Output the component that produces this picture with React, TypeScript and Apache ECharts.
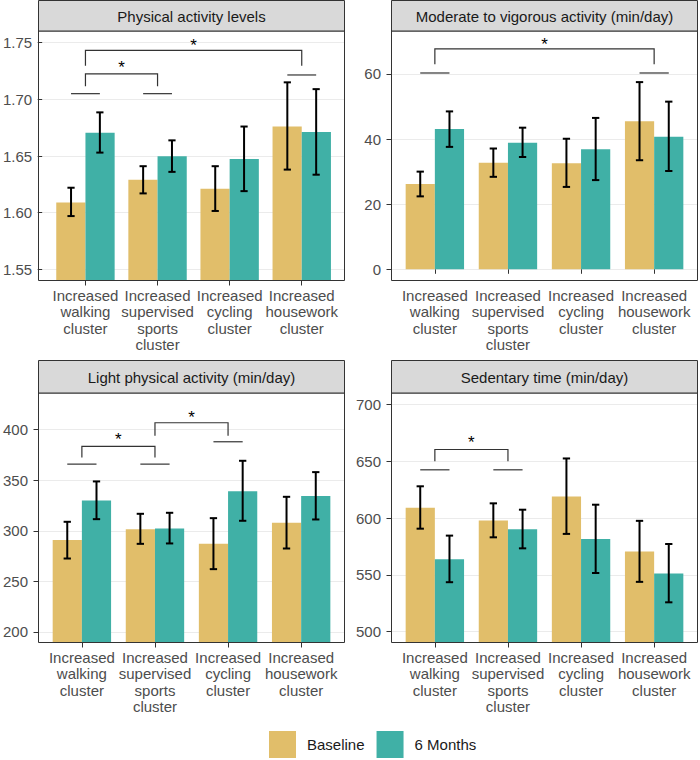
import React, { useEffect, useRef } from 'react';
import * as echarts from 'echarts';

// ---------- data ----------
const categories = [
  'Increased\nwalking\ncluster',
  'Increased\nsupervised\nsports\ncluster',
  'Increased\ncycling\ncluster',
  'Increased\nhousework\ncluster',
];
const categoryPositions = [1, 2, 3, 4];
const groupNames = ['Baseline', '6 Months'];
const groupColors = ['#E1BE6A', '#40B0A6'];

const panelTitles = [
  'Physical activity levels',
  'Moderate to vigorous activity (min/day)',
  'Light physical activity (min/day)',
  'Sedentary time (min/day)',
];

// Physical activity levels
const paBaseline = [1.609, 1.629, 1.621, 1.676];
const paBaselineLow = [1.597, 1.617, 1.6015, 1.638];
const paBaselineHigh = [1.622, 1.641, 1.641, 1.715];
const pa6m = [1.6706, 1.6497, 1.6474, 1.6712];
const pa6mLow = [1.653, 1.636, 1.619, 1.6335];
const pa6mHigh = [1.6885, 1.6638, 1.676, 1.709];
const paTicks = [1.55, 1.6, 1.65, 1.7, 1.75];
const paRange = [1.5397, 1.7603];
const paDashes = [[1, 1.705], [2, 1.705], [4, 1.7215]];
const paBrackets = [[1, 2, 1.7224, 1.7115], [1, 4, 1.7432, 1.7297]];
const paStars = [[1.5, 1.7314], [2.5, 1.7514]];

// Moderate to vigorous activity
const mvBaseline = [26.2, 32.7, 32.6, 45.5];
const mvBaselineLow = [22.4, 28.4, 25.3, 33.5];
const mvBaselineHigh = [30.0, 37.1, 40.1, 57.5];
const mv6m = [43.1, 38.9, 36.9, 40.7];
const mv6mLow = [37.6, 34.5, 27.4, 30.2];
const mv6mHigh = [48.5, 43.5, 46.5, 51.5];
const mvTicks = [0, 20, 40, 60];
const mvRange = [-3.6, 73.2];
const mvDashes = [[1, 60.3], [4, 60.3]];
const mvBrackets = [[1, 4, 67.7, 63.0]];
const mvStars = [[2.5, 70.2]];

// Light physical activity
const lpBaseline = [290.8, 301.6, 287.1, 307.9];
const lpBaselineLow = [272.6, 287.1, 262.1, 282.5];
const lpBaselineHigh = [308.9, 316.8, 312.5, 333.6];
const lp6m = [330.0, 302.3, 339.2, 334.3];
const lp6mLow = [311.5, 287.5, 309.9, 311.2];
const lp6mHigh = [348.8, 317.8, 369.2, 358.0];
const lpTicks = [200, 250, 300, 350, 400];
const lpRange = [189.1, 436.2];
const lpDashes = [[1, 365.9], [2, 365.9], [3, 388]];
const lpBrackets = [[1, 2, 383.5, 372.5], [2, 3, 406.8, 394]];
const lpStars = [[1.5, 394.6], [2.5, 415.8]];

// Sedentary time
const sdBaseline = [609.1, 597.7, 619.0, 570.5];
const sdBaselineLow = [590.6, 583.0, 586.0, 543.8];
const sdBaselineHigh = [627.9, 612.9, 652.4, 597.5];
const sd6m = [563.8, 590.0, 581.5, 551.2];
const sd6mLow = [543.5, 573.3, 551.6, 525.8];
const sd6mHigh = [584.5, 607.3, 611.7, 577.1];
const sdTicks = [500, 550, 600, 650, 700];
const sdRange = [490, 710];
const sdDashes = [[1, 642.4], [2, 642.4]];
const sdBrackets = [[1, 2, 660.3, 650]];
const sdStars = [[1.5, 669.7]];

// ---------- layout / style ----------
const FONT = '"Liberation Sans", Arial, Helvetica, sans-serif';
const PANEL_W = 307;
const PANEL_H = 250;
const panelBoxes = [
  { left: 38, top: 31, stripTop: 0, stripH: 31 },
  { left: 391, top: 31, stripTop: 0, stripH: 31 },
  { left: 38, top: 393, stripTop: 360, stripH: 33 },
  { left: 391, top: 393, stripTop: 360, stripH: 33 },
];

const panels = [
  { base: [paBaseline, paBaselineLow, paBaselineHigh], six: [pa6m, pa6mLow, pa6mHigh], ticks: paTicks, range: paRange, dec: 2, dashes: paDashes, brackets: paBrackets, stars: paStars },
  { base: [mvBaseline, mvBaselineLow, mvBaselineHigh], six: [mv6m, mv6mLow, mv6mHigh], ticks: mvTicks, range: mvRange, dec: 0, dashes: mvDashes, brackets: mvBrackets, stars: mvStars },
  { base: [lpBaseline, lpBaselineLow, lpBaselineHigh], six: [lp6m, lp6mLow, lp6mHigh], ticks: lpTicks, range: lpRange, dec: 0, dashes: lpDashes, brackets: lpBrackets, stars: lpStars },
  { base: [sdBaseline, sdBaselineLow, sdBaselineHigh], six: [sd6m, sd6mLow, sd6mHigh], ticks: sdTicks, range: sdRange, dec: 0, dashes: sdDashes, brackets: sdBrackets, stars: sdStars },
];

const DODGE = 0.2;
const CAP = 0.05;

function errorRender(off: number) {
  return (params: any, api: any) => {
    const x = api.value(0) + off;
    const lo = api.coord([x, api.value(1)]);
    const hi = api.coord([x, api.value(2)]);
    const l = api.coord([x - CAP, api.value(1)])[0];
    const r = api.coord([x + CAP, api.value(1)])[0];
    const st = { stroke: '#000', lineWidth: 2 };
    return {
      type: 'group',
      children: [
        { type: 'line', shape: { x1: lo[0], y1: lo[1], x2: hi[0], y2: hi[1] }, style: st },
        { type: 'line', shape: { x1: l, y1: hi[1], x2: r, y2: hi[1] }, style: st },
        { type: 'line', shape: { x1: l, y1: lo[1], x2: r, y2: lo[1] }, style: st },
      ],
    };
  };
}

function dashRender(params: any, api: any) {
  const x = api.value(0);
  const y = api.value(1);
  const a = api.coord([x - DODGE, y]);
  const b = api.coord([x + DODGE, y]);
  return { type: 'line', shape: { x1: a[0], y1: a[1], x2: b[0], y2: b[1] }, style: { stroke: '#333', lineWidth: 1.2 } };
}

function bracketRender(params: any, api: any) {
  const x1 = api.value(0);
  const x2 = api.value(1);
  const yt = api.value(2);
  const yl = api.value(3);
  const pts = [api.coord([x1, yl]), api.coord([x1, yt]), api.coord([x2, yt]), api.coord([x2, yl])];
  return { type: 'polyline', shape: { points: pts }, style: { stroke: '#333', lineWidth: 1.2, fill: null } };
}

function starRender(params: any, api: any) {
  const p = api.coord([api.value(0), api.value(1)]);
  return {
    type: 'text',
    x: p[0],
    y: p[1] + 4,
    style: { text: '*', fontSize: 17, fontFamily: FONT, fill: '#000', align: 'center', verticalAlign: 'middle' },
  };
}

function buildOption() {
  const grid: any[] = [];
  const xAxis: any[] = [];
  const yAxis: any[] = [];
  const series: any[] = [];
  const graphic: any[] = [];

  panels.forEach((p, i) => {
    const box = panelBoxes[i];
    grid.push({ left: box.left, top: box.top, width: PANEL_W, height: PANEL_H, containLabel: false });
    xAxis.push({
      type: 'value',
      gridIndex: i,
      min: 0.4,
      max: 4.6,
      axisLine: { show: false },
      splitLine: { show: false },
      axisTick: { show: true, customValues: categoryPositions, length: 4.5, lineStyle: { color: '#333', width: 1 } },
      axisLabel: {
        show: true,
        customValues: categoryPositions,
        formatter: (v: number) => categories[Math.round(v) - 1] ?? '',
        fontFamily: FONT,
        fontSize: 15,
        lineHeight: 16.5,
        color: '#4D4D4D',
        margin: 6,
      },
    });
    yAxis.push({
      type: 'value',
      gridIndex: i,
      min: p.range[0],
      max: p.range[1],
      axisLine: { show: false },
      splitLine: { show: true, lineStyle: { color: '#EBEBEB', width: 1 } },
      axisTick: { show: true, customValues: p.ticks, length: 4.5, lineStyle: { color: '#333', width: 1 } },
      axisLabel: {
        show: true,
        customValues: p.ticks,
        formatter: (v: number) => v.toFixed(p.dec),
        fontFamily: FONT,
        fontSize: 15,
        color: '#4D4D4D',
        margin: 10,
      },
    });

    const groups = [p.base, p.six];
    groups.forEach((g, gi) => {
      series.push({
        type: 'bar',
        name: groupNames[gi],
        xAxisIndex: i,
        yAxisIndex: i,
        barWidth: 29.2,
        barGap: '0%',
        itemStyle: { color: groupColors[gi] },
        data: categoryPositions.map((x, k) => [x, g[0][k]]),
        clip: true,
        z: 2,
      });
    });
    groups.forEach((g, gi) => {
      series.push({
        type: 'custom',
        name: 'err' + i + gi,
        xAxisIndex: i,
        yAxisIndex: i,
        renderItem: errorRender(gi === 0 ? -DODGE : DODGE),
        encode: { x: 0, y: [1, 2] },
        data: categoryPositions.map((x, k) => [x, g[1][k], g[2][k]]),
        z: 5,
      });
    });
    series.push({
      type: 'custom', name: 'dash' + i, xAxisIndex: i, yAxisIndex: i,
      renderItem: dashRender, encode: { x: 0, y: 1 }, data: p.dashes, z: 5,
    });
    series.push({
      type: 'custom', name: 'bracket' + i, xAxisIndex: i, yAxisIndex: i,
      renderItem: bracketRender, encode: { x: [0, 1], y: [2, 3] }, data: p.brackets, z: 5,
    });
    series.push({
      type: 'custom', name: 'star' + i, xAxisIndex: i, yAxisIndex: i,
      renderItem: starRender, encode: { x: 0, y: 1 }, data: p.stars, z: 5,
    });

    // panel border on top
    graphic.push({
      type: 'rect',
      shape: { x: box.left + 0.5, y: box.top, width: PANEL_W - 1, height: PANEL_H - 0.5 },
      style: { fill: 'none', stroke: '#333333', lineWidth: 1 },
      z: 100,
      silent: true,
    });
    // strip
    graphic.push({
      type: 'rect',
      shape: { x: box.left + 0.5, y: box.stripTop + 0.5, width: PANEL_W - 1, height: box.stripH - 0.5 },
      style: { fill: '#D9D9D9', stroke: '#333333', lineWidth: 1 },
      z: 100,
      silent: true,
    });
    graphic.push({
      type: 'text',
      x: box.left + PANEL_W / 2,
      y: box.stripTop + box.stripH / 2 + 0.5,
      style: {
        text: panelTitles[i],
        fontFamily: FONT,
        fontSize: 15,
        fill: '#1A1A1A',
        align: 'center',
        verticalAlign: 'middle',
      },
      z: 101,
      silent: true,
    });
  });

  return {
    animation: false,
    backgroundColor: '#ffffff',
    grid,
    xAxis,
    yAxis,
    series,
    graphic,
    legend: {
      data: groupNames,
      left: 269,
      top: 731,
      orient: 'horizontal',
      icon: 'rect',
      itemWidth: 27,
      itemHeight: 27,
      itemGap: 12,
      padding: 0,
      selectedMode: false,
      textStyle: { fontFamily: FONT, fontSize: 15, color: '#1A1A1A', padding: [0, 0, 0, 6] },
    },
  };
}

export default function App() {
  const ref = useRef<HTMLDivElement>(null);
  useEffect(() => {
    if (!ref.current) return;
    const chart = echarts.init(ref.current, undefined, { renderer: 'svg' });
    chart.setOption(buildOption() as any);
    return () => chart.dispose();
  }, []);
  return (
    <div
      ref={ref}
      style={{ position: 'absolute', left: 0, top: 0, width: 700, height: 760, background: '#fff' }}
    />
  );
}
